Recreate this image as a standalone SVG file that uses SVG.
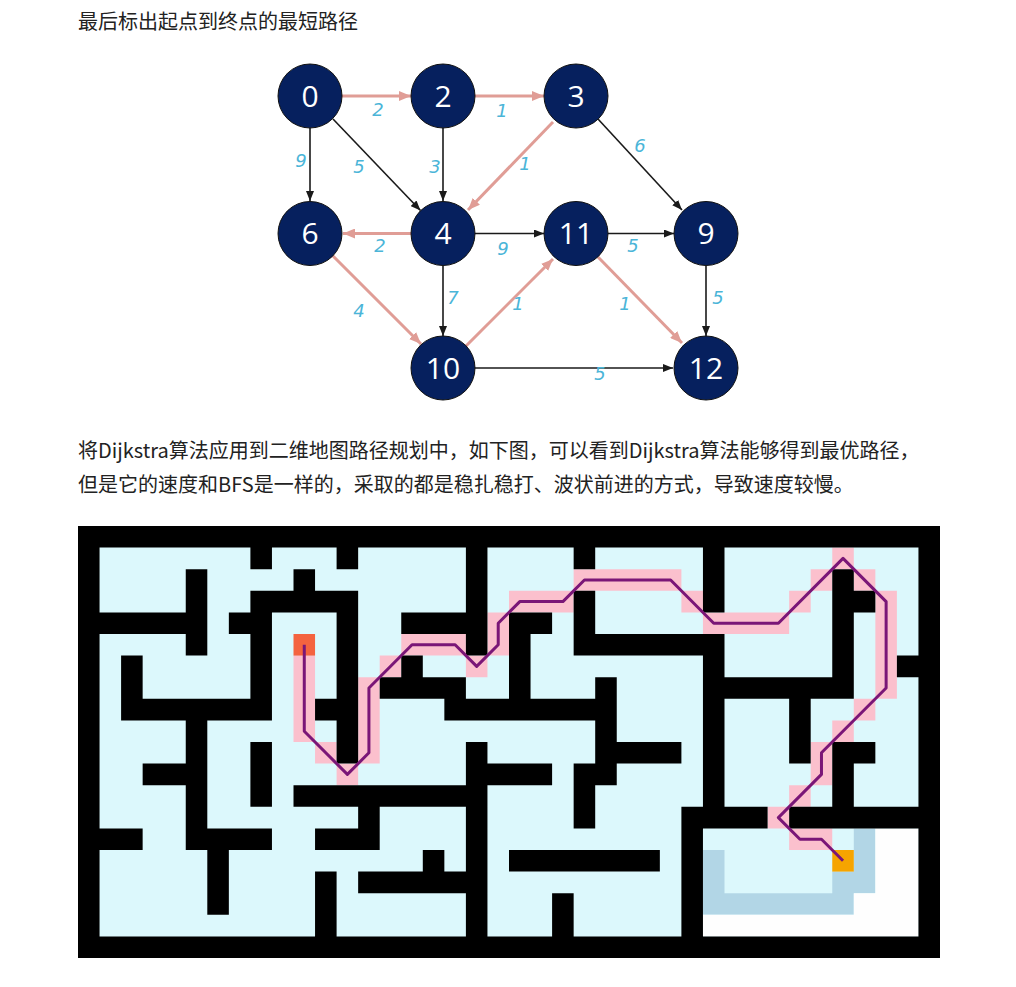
<svg xmlns="http://www.w3.org/2000/svg" width="1016" height="987" viewBox="0 0 1016 987">
<style>
.txt{font-family:"Noto Sans CJK SC","Noto Sans",sans-serif;font-size:20px;fill:#222}
.node circle{fill:#06205e;stroke:#111;stroke-width:1}
.node text{font-family:"Open Sans","Noto Sans",sans-serif;font-size:30px;fill:#fff;text-anchor:middle}
.eb{stroke:#1a1a1a;stroke-width:1.6;fill:none;marker-end:url(#ab)}
.ep{stroke:#e09d96;stroke-width:3;fill:none;marker-end:url(#ap)}
.lbl{font-family:"DejaVu Sans",sans-serif;font-style:italic;font-size:18px;fill:#4bb5d8;text-anchor:middle}
</style>
<defs>
<marker id="ab" markerUnits="userSpaceOnUse" markerWidth="10" markerHeight="8" refX="10" refY="4" orient="auto"><path d="M0,0 L10,4 L0,8 z" fill="#1a1a1a"/></marker>
<marker id="ap" markerUnits="userSpaceOnUse" markerWidth="12" markerHeight="10" refX="12" refY="5" orient="auto"><path d="M0,0 L12,5 L0,10 z" fill="#e09d96"/></marker>
</defs>
<rect width="1016" height="987" fill="#fff"/>
<text class="txt" x="78" y="28.5">最后标出起点到终点的最短路径</text>
<text class="txt" x="78" y="457.5">将Dijkstra算法应用到二维地图路径规划中，如下图，可以看到Dijkstra算法能够得到最优路径，</text>
<text class="txt" x="78" y="491.5">但是它的速度和BFS是一样的，采取的都是稳扎稳打、波状前进的方式，导致速度较慢。</text>

<g id="connectors">
<line class="ep" x1="342" y1="96" x2="411" y2="96"/>
<line class="ep" x1="475" y1="96" x2="544" y2="96"/>
<line class="eb" x1="310" y1="128" x2="310" y2="201"/>
<line class="eb" x1="333" y1="119" x2="420.5" y2="210.5"/>
<line class="eb" x1="443" y1="128" x2="443" y2="201"/>
<line class="ep" x1="553" y1="122" x2="468" y2="210"/>
<line class="eb" x1="598" y1="119" x2="682" y2="210"/>
<line class="ep" x1="411" y1="233.5" x2="343" y2="233.5"/>
<line class="eb" x1="475" y1="233.5" x2="544" y2="233.5"/>
<line class="eb" x1="608" y1="233.5" x2="674" y2="233.5"/>
<line class="eb" x1="443" y1="266" x2="443" y2="336"/>
<line class="ep" x1="333" y1="256" x2="421" y2="344"/>
<line class="ep" x1="466" y1="346" x2="553" y2="259"/>
<line class="ep" x1="598" y1="257" x2="682" y2="343"/>
<line class="eb" x1="706" y1="266" x2="706" y2="336"/>
<line class="eb" x1="475" y1="368" x2="673" y2="368"/>
<text class="lbl" x="378" y="115.5">2</text>
<text class="lbl" x="502" y="116.5">1</text>
<text class="lbl" x="301" y="166.5">9</text>
<text class="lbl" x="359" y="172.5">5</text>
<text class="lbl" x="435" y="172.5">3</text>
<text class="lbl" x="525" y="169.5">1</text>
<text class="lbl" x="640" y="151.5">6</text>
<text class="lbl" x="380" y="251.5">2</text>
<text class="lbl" x="503" y="254.5">9</text>
<text class="lbl" x="633" y="251.5">5</text>
<text class="lbl" x="453" y="303.5">7</text>
<text class="lbl" x="359" y="316.5">4</text>
<text class="lbl" x="518" y="309.5">1</text>
<text class="lbl" x="625" y="309.5">1</text>
<text class="lbl" x="718" y="303.5">5</text>
<text class="lbl" x="600" y="379.5">5</text>
</g>

<g id="n0" class="node"><circle cx="310" cy="96" r="32"/><text x="310" y="106.7">0</text></g>
<g id="n2" class="node"><circle cx="443" cy="96" r="32"/><text x="443" y="106.7">2</text></g>
<g id="n3" class="node"><circle cx="576" cy="96" r="32"/><text x="576" y="106.7">3</text></g>
<g id="n6" class="node"><circle cx="310" cy="233.5" r="32"/><text x="310" y="244.2">6</text></g>
<g id="n4" class="node"><circle cx="443" cy="233.5" r="32"/><text x="443" y="244.2">4</text></g>
<g id="n11" class="node"><circle cx="576" cy="233.5" r="32"/><text x="576" y="244.2">11</text></g>
<g id="n9" class="node"><circle cx="706" cy="233.5" r="32"/><text x="706" y="244.2">9</text></g>
<g id="n10" class="node"><circle cx="443" cy="368" r="32"/><text x="443" y="378.7">10</text></g>
<g id="n12" class="node"><circle cx="706" cy="368" r="32"/><text x="706" y="378.7">12</text></g>

<g id="maze" transform="translate(78,526) scale(21.55,21.6)">
<rect x="0" y="0" width="40" height="20" fill="#dcf8fc"/>
<path fill="#fbc0cd" d="M10 6h1v4h-1z M11 10h1v1h-1z M12 11h1v1h-1z M13 7h1v4h-1z M14 6h1v1h-1z M15 5h3v1h-3z M18 6h1v1h-1z M19 4h1v2h-1z M20 3h3v1h-3z M23 2h5v1h-5z M28 3h1v1h-1z M29 4h4v1h-4z M33 3h1v1h-1z M34 2h1v1h-1z M35 1h1v1h-1z M36 2h1v1h-1z M37 3h1v5h-1z M36 8h1v1h-1z M35 9h1v1h-1z M34 10h1v2h-1z M33 12h1v1h-1z M32 13h1v1h-1z M33 14h2v1h-2z"/>
<path fill="#b2d6e6" d="M29 15h1v3h-1z M30 17h6v1h-6z M36 14h1v3h-1z M35 16h1v1h-1z"/>
<path fill="#fefefe" d="M37 14h2v5h-2z M36 17h1v2h-1z M29 18h7v1h-7z"/>
<rect x="10" y="5" width="1" height="1" fill="#f4633f"/>
<rect x="35" y="15" width="1" height="1" fill="#f6a400"/>
<path fill="#000" d="M0 0h40v1h-40z M0 19h40v1h-40z M0 0h1v20h-1z M39 0h1v20h-1z
M8 1h1v1h-1z M12 1h1v1h-1z M18 1h1v1h-1z M23 1h1v1h-1z M29 1h1v1h-1z
M5 2h1v1h-1z M10 2h1v1h-1z M18 2h1v1h-1z M29 2h1v1h-1z M35 2h1v1h-1z
M5 3h1v1h-1z M8 3h5v1h-5z M18 3h1v1h-1z M23 3h1v1h-1z M29 3h1v1h-1z M35 3h2v1h-2z
M1 4h5v1h-5z M7 4h2v1h-2z M12 4h1v1h-1z M15 4h4v1h-4z M20 4h2v1h-2z M23 4h1v1h-1z M35 4h1v1h-1z
M5 5h1v1h-1z M8 5h1v1h-1z M12 5h1v1h-1z M18 5h1v1h-1z M20 5h1v1h-1z M23 5h7v1h-7z M35 5h1v1h-1z
M2 6h1v1h-1z M8 6h1v1h-1z M12 6h1v1h-1z M15 6h1v1h-1z M20 6h1v1h-1z M29 6h1v1h-1z M35 6h1v1h-1z M38 6h1v1h-1z
M2 7h1v1h-1z M8 7h1v1h-1z M12 7h1v1h-1z M14 7h4v1h-4z M20 7h1v1h-1z M24 7h1v1h-1z M29 7h7v1h-7z
M2 8h7v1h-7z M11 8h2v1h-2z M17 8h8v1h-8z M29 8h1v1h-1z M33 8h1v1h-1z
M5 9h1v1h-1z M12 9h1v1h-1z M24 9h1v1h-1z M29 9h1v1h-1z M33 9h1v1h-1z
M5 10h1v1h-1z M8 10h1v1h-1z M12 10h1v1h-1z M18 10h1v1h-1z M24 10h4v1h-4z M29 10h1v1h-1z M33 10h1v1h-1z M35 10h2v1h-2z
M3 11h3v1h-3z M8 11h1v1h-1z M18 11h4v1h-4z M23 11h2v1h-2z M29 11h1v1h-1z M35 11h1v1h-1z
M5 12h1v1h-1z M8 12h1v1h-1z M10 12h9v1h-9z M23 12h1v1h-1z M29 12h1v1h-1z M35 12h1v1h-1z
M5 13h1v1h-1z M13 13h1v1h-1z M18 13h1v1h-1z M23 13h1v1h-1z M28 13h4v1h-4z M33 13h6v1h-6z
M1 14h2v1h-2z M5 14h4v1h-4z M11 14h3v1h-3z M18 14h1v1h-1z M28 14h1v1h-1z
M6 15h1v1h-1z M16 15h1v1h-1z M18 15h1v1h-1z M20 15h7v1h-7z M28 15h1v1h-1z
M6 16h1v1h-1z M11 16h1v1h-1z M13 16h6v1h-6z M28 16h1v1h-1z
M6 17h1v1h-1z M11 17h1v1h-1z M18 17h1v1h-1z M22 17h1v1h-1z M28 17h1v1h-1z
M11 18h1v1h-1z M18 18h1v1h-1z M22 18h1v1h-1z M28 18h1v1h-1z"/>
<polyline fill="none" stroke="#7a1677" stroke-width="3" vector-effect="non-scaling-stroke" stroke-linejoin="round" points="10.5,5.5 10.5,9.5 12.5,11.5 13.5,10.5 13.5,7.5 15.5,5.5 17.5,5.5 18.5,6.5 19.5,5.5 19.5,4.5 20.5,3.5 22.5,3.5 23.5,2.5 27.5,2.5 29.5,4.5 32.5,4.5 35.5,1.5 37.5,3.5 37.5,7.5 34.5,10.5 34.5,11.5 32.5,13.5 33.5,14.5 34.5,14.5 35.5,15.5"/>
</g>
</svg>
